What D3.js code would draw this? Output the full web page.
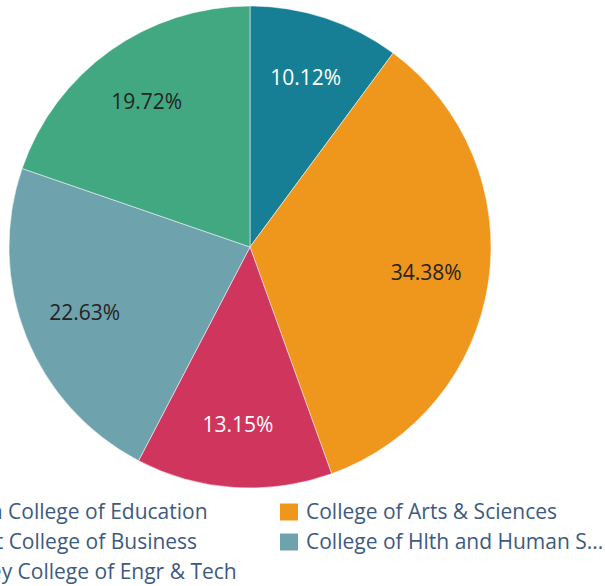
<!DOCTYPE html>
<html>
<head>
<meta charset="utf-8">
<script src="https://cdn.jsdelivr.net/npm/d3@7"></script>
<style>
  body { margin: 0; background: #fff; overflow: hidden; }
  svg { display: block; font-family: "Open Sans", "Noto Sans", sans-serif; }
</style>
</head>
<body>
<svg id="chart" width="605" height="586"></svg>
<script>
// colleges, in slice order clockwise from 12 o'clock
var colleges = ["Bayh College of Education", "College of Arts & Sciences", "Scott College of Business",
                "College of Hlth and Human Svcs", "Bailey College of Engr & Tech"];
var shares = [10.12, 34.38, 13.15, 22.63, 19.72];
var colors = ["#177f95", "#ef961d", "#d0365d", "#6ea2ad", "#42a881"];
var labelColors = ["#ffffff", "#252423", "#ffffff", "#252423", "#252423"];

var svg = d3.select("#chart"),
    cx = 250, cy = 247, radius = 241;

var data = colleges.map(function(c, i) { return {name: c, value: shares[i], color: colors[i], label: labelColors[i]}; });

var pie = d3.pie()
    .sort(null)
    .value(function(d) { return d.value; });

var arc = d3.arc()
    .innerRadius(0)
    .outerRadius(radius);

var labelArc = d3.arc()
    .innerRadius(178)
    .outerRadius(178);

var g = svg.append("g")
    .attr("transform", "translate(" + cx + "," + cy + ")");

var slices = pie(data);

g.selectAll("path")
    .data(slices)
  .enter().append("path")
    .attr("d", arc)
    .attr("fill", function(d) { return d.data.color; })
    .attr("stroke", "#fff")
    .attr("stroke-width", 0.5);

g.selectAll("text")
    .data(slices)
  .enter().append("text")
    .attr("transform", function(d) { return "translate(" + labelArc.centroid(d) + ")"; })
    .attr("text-anchor", "middle")
    .attr("dy", "0.35em")
    .attr("font-size", 21)
    .attr("fill", function(d) { return d.data.label; })
    .text(function(d) { return d.data.value.toFixed(2) + "%"; });

// legend: two columns, filled row by row, left column partly off screen
var legend = svg.append("g"),
    colX = [-72, 280],
    rowY = [512, 542, 572],
    maxText = 605 - 306;

data.forEach(function(d, i) {
  var col = i % 2, row = Math.floor(i / 2);
  var item = legend.append("g")
      .attr("transform", "translate(" + colX[col] + "," + rowY[row] + ")");
  item.append("rect")
      .attr("x", 0)
      .attr("y", -8.5)
      .attr("width", 18)
      .attr("height", 17)
      .attr("fill", d.color);
  var t = item.append("text")
      .attr("x", 26)
      .attr("dy", "0.35em")
      .attr("font-size", 21)
      .attr("fill", "#3d5a80")
      .text(d.name);
  if (col == 1 && t.node().getComputedTextLength() > maxText) {
    var s = d.name;
    while (s.length > 1) {
      s = s.slice(0, -1);
      t.text(s.replace(/\s+$/, "") + "...");
      if (t.node().getComputedTextLength() <= maxText) break;
    }
  }
});
</script>
</body>
</html>
